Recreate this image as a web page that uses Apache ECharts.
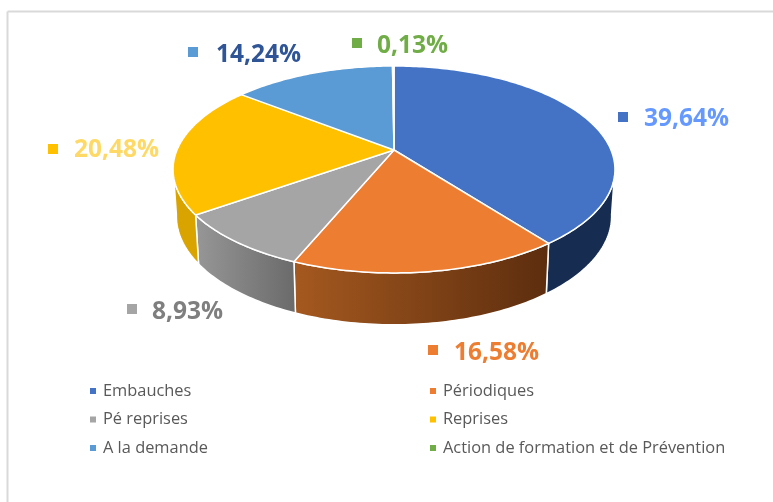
<!DOCTYPE html>
<html>
<head>
<meta charset="utf-8">
<style>
  html, body { margin: 0; padding: 0; background: #fff; }
  #main { width: 773px; height: 502px; }
</style>
<script src="https://cdn.jsdelivr.net/npm/echarts@6/dist/echarts.min.js"></script>
</head>
<body>
<div id="main"></div>
<script>
const categories = ["Embauches", "Périodiques", "Pé reprises", "Reprises", "A la demande", "Action de formation et de Prévention"];
const shares = [39.64, 16.58, 8.93, 20.48, 14.24, 0.13];
const colors = ["#4472C4", "#ED7D31", "#A5A5A5", "#FFC000", "#5B9BD5", "#70AD47"];
const labelColors = ["#6699FF", "#ED7D31", "#7F7F7F", "#FFD966", "#2F5597", "#70AD47"];
// couleurs du bord visible (gauche, droite)
const sideColors = [["#172C51", "#172C51"], ["#A5591F", "#5C2D0E"], ["#979797", "#6A6A6A"], ["#D9A300", "#D9A300"], ["#3A6EA5", "#3A6EA5"], ["#4A7530", "#4A7530"]];
// position des étiquettes : carré puis texte
const markerX = [623, 433, 132, 53, 193, 357];
const markerY = [117, 350, 309, 149, 52, 43];
const labelX = [644, 454, 152, 74, 216, 377];
const labelY = [119.5, 353.5, 312.5, 150.5, 55.5, 46.5];

// projection du disque (perspective), sommet en haut, sens horaire
const APEX_X = 394, APEX_Y = 150, SCALE_X = 217, SCALE_Y = 99.8, PERSP = -0.188;
const topPoint = (deg) => {
  const a = deg * Math.PI / 180;
  const u = Math.sin(a), v = -Math.cos(a);
  const w = 1 + PERSP * v;
  return [APEX_X + SCALE_X * u / w, APEX_Y + SCALE_Y * v / w];
};
const bottomPoint = (deg) => {
  const p = topPoint(deg);
  return [APEX_X + 0.985 * (p[0] - APEX_X), APEX_Y + 1.05 * (p[1] - APEX_Y) + 45.75];
};
const arc = (fn, from, to) => {
  const pts = [];
  const n = Math.max(1, Math.ceil(Math.abs(to - from)));
  for (let i = 0; i <= n; i++) pts.push(fn(from + (to - from) * i / n));
  return pts;
};

const total = shares.reduce((s, v) => s + v, 0);
const FRONT_FROM = 100, FRONT_TO = 260; // partie visible du bord

const series = categories.map((name, idx) => {
  const before = shares.slice(0, idx).reduce((s, v) => s + v, 0);
  return {
    type: "custom",
    name: name,
    coordinateSystem: "none",
    itemStyle: { color: colors[idx] },
    silent: true,
    data: [shares[idx]],
    renderItem: (params, api) => {
      const start = before / total * 360;
      const end = start + api.value(0) / total * 360;
      const children = [];
      // bord du disque
      const sFrom = Math.max(start, FRONT_FROM), sTo = Math.min(end, FRONT_TO);
      if (sTo > sFrom) {
        const side = arc(topPoint, sFrom, sTo).concat(arc(bottomPoint, sTo, sFrom));
        children.push({
          type: "polygon",
          z2: 1,
          shape: { points: side },
          style: {
            fill: new echarts.graphic.LinearGradient(0, 0, 1, 0, [
              { offset: 0, color: sideColors[idx][0] },
              { offset: 1, color: sideColors[idx][1] },
            ]),
            stroke: "#fff",
            lineWidth: 1.5,
          },
        });
      }
      // face du dessus
      children.push({
        type: "polygon",
        z2: 2,
        shape: { points: [[APEX_X, APEX_Y]].concat(arc(topPoint, start, end)) },
        style: { fill: colors[idx], stroke: "#fff", lineWidth: 1.5, lineJoin: "round" },
      });
      // étiquette
      children.push({
        type: "rect",
        z2: 3,
        shape: { x: markerX[idx] - 5, y: markerY[idx] - 5, width: 10, height: 10 },
        style: { fill: colors[idx] },
      });
      children.push({
        type: "text",
        z2: 3,
        x: labelX[idx],
        y: labelY[idx],
        style: {
          text: api.value(0).toFixed(2).replace(".", ",") + "%",
          fill: labelColors[idx],
          font: "bold 24.5px 'Open Sans'",
          align: "left",
          verticalAlign: "middle",
        },
      });
      return { type: "group", children: children };
    },
  };
});

const legendBase = {
  orient: "vertical",
  top: 375,
  icon: "rect",
  itemWidth: 6,
  itemHeight: 6,
  itemGap: 6.5,
  selectedMode: false,
  textStyle: { fontFamily: "Open Sans", fontSize: 16.4, color: "#595959", padding: [0, 0, 0, 2], lineHeight: 22, height: 22 },
};

const myChart = echarts.init(document.getElementById("main"));
const option = {
  animation: false,
  backgroundColor: "#fff",
  legend: [
    Object.assign({}, legendBase, { left: 85, data: [categories[0], categories[2], categories[4]] }),
    Object.assign({}, legendBase, { left: 425, data: [categories[1], categories[3], categories[5]] }),
  ],
  graphic: [
    { type: "line", silent: true, shape: { x1: 7.5, y1: 11.5, x2: 773, y2: 11.5 }, style: { stroke: "#D9D9D9", lineWidth: 2 } },
    { type: "line", silent: true, shape: { x1: 7.5, y1: 11.5, x2: 7.5, y2: 502 }, style: { stroke: "#D9D9D9", lineWidth: 2 } },
  ],
  series: series,
};
option && myChart.setOption(option);
</script>
</body>
</html>
